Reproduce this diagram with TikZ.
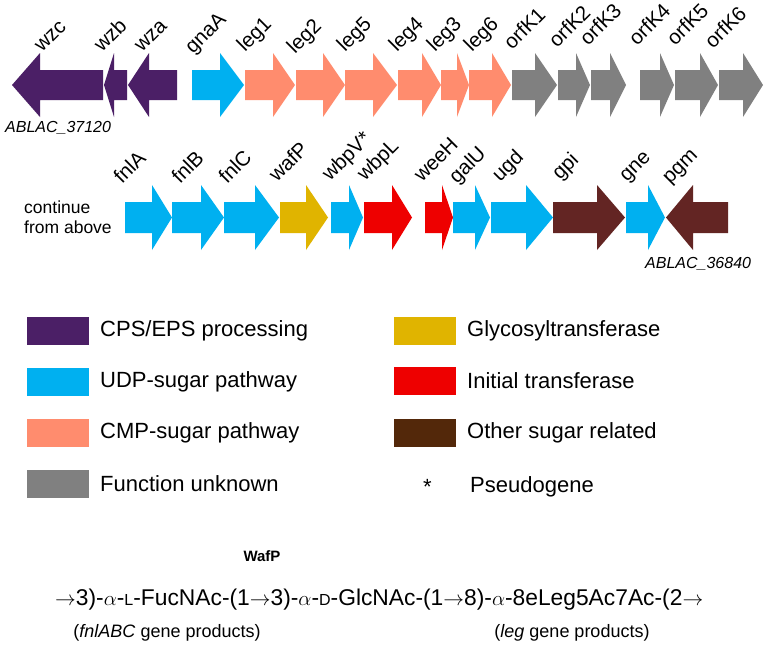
\documentclass[tikz,border=0pt]{standalone}
\usepackage{fontspec}
\setmainfont{Liberation Sans}
\definecolor{cps}{HTML}{4B1F66}
\definecolor{udp}{HTML}{00B0F0}
\definecolor{cmp}{HTML}{FF8C6E}
\definecolor{unk}{HTML}{808080}
\definecolor{gly}{HTML}{E0B400}
\definecolor{ini}{HTML}{EE0000}
\definecolor{oth}{HTML}{53280A}
\definecolor{othA}{HTML}{632523}
\newcommand{\genearrow}[4]{%
  \fill[#4] (#1,\cy-\bh) -- (#2,\cy-\bh) -- (#2,\cy-\hh) -- (#3,\cy) -- (#2,\cy+\hh) -- (#2,\cy+\bh) -- (#1,\cy+\bh) -- cycle;}
\newcommand{\smallcap}[1]{{\fontsize{16}{16}\selectfont #1}}
\tikzset{
  glab/.style={font=\fontsize{20.5}{20.5}\selectfont, inner sep=0pt, rotate=45, anchor=base west},
  legtext/.style={font=\fontsize{22}{22}\selectfont, inner sep=0pt, anchor=west},
  legbox/.style={minimum width=62pt, minimum height=28pt, inner sep=0pt, anchor=west},
  small/.style={font=\fontsize{17.5}{19.5}\selectfont, inner sep=0pt}
}
\begin{document}
\begin{tikzpicture}[x=1pt,y=-1pt]
\useasboundingbox (0,0) rectangle (768,645);
\fill[white] (0,0) rectangle (768,645);
% ---------- row 1 ----------
\def\cy{85}\def\bh{15}\def\hh{32}
\genearrow{103}{40}{12}{cps}
\genearrow{127}{114}{104}{cps}
\genearrow{177}{149}{128}{cps}
\genearrow{192}{220}{244}{udp}
\genearrow{245}{273}{295}{cmp}
\genearrow{296}{323}{345}{cmp}
\genearrow{345}{373}{397}{cmp}
\genearrow{398}{422}{441}{cmp}
\genearrow{441}{457}{469}{cmp}
\genearrow{469}{492}{511}{cmp}
\genearrow{512}{535}{557}{unk}
\genearrow{558}{576}{590}{unk}
\genearrow{591}{610}{626}{unk}
\genearrow{640}{660}{674}{unk}
\genearrow{675}{700}{718}{unk}
\genearrow{719}{743}{763}{unk}
\node[glab] (wzc) at (42,53) {wzc};
\node[glab] (wzb) at (102,53) {wzb};
\node[glab] (wza) at (142,53) {wza};
\node[glab] (gnaA) at (193,55) {gnaA};
\node[glab] (leg1) at (245,53) {leg1};
\node[glab] (leg2) at (295,55) {leg2};
\node[glab] (leg5) at (345,53) {leg5};
\node[glab] (leg4) at (397,53) {leg4};
\node[glab] (leg3) at (435,53) {leg3};
\node[glab] (leg6) at (472,53) {leg6};
\node[glab] (orfK1) at (512,51) {orfK1};
\node[glab] (orfK2) at (557,49) {orfK2};
\node[glab] (orfK3) at (588,47) {orfK3};
\node[glab] (orfK4) at (637,47) {orfK4};
\node[glab] (orfK5) at (675,47) {orfK5};
\node[glab] (orfK6) at (713,50) {orfK6};
\node[font=\fontsize{16}{16}\selectfont\itshape, inner sep=0pt, anchor=west] (abl1) at (5,128) {ABLAC\_37120};
% ---------- row 2 ----------
\def\cy{217.5}\def\bh{15.5}\def\hh{32.5}
\genearrow{125}{152}{172}{udp}
\genearrow{172}{201}{224}{udp}
\genearrow{224}{255}{279}{udp}
\genearrow{280}{306}{328}{gly}
\genearrow{331}{349}{363}{udp}
\genearrow{364}{392}{412}{ini}
\genearrow{425}{442}{453}{ini}
\genearrow{453}{475}{490}{udp}
\genearrow{491}{526}{553}{udp}
\genearrow{553}{597}{625}{othA}
\genearrow{626}{648}{665}{udp}
\genearrow{728}{693}{666}{othA}
\node[glab] (fnlA) at (122,185) {fnlA};
\node[glab] (fnlB) at (180,185) {fnlB};
\node[glab] (fnlC) at (227,185) {fnlC};
\node[glab] (wafP) at (277,183) {wafP};
\node[glab] (wbpV) at (330,182) {wbpV*};
\node[glab] (wbpL) at (365,182) {wbpL};
\node[glab] (weeH) at (422,183) {weeH};
\node[glab] (galU) at (457,185) {galU};
\node[glab] (ugd) at (500,183) {ugd};
\node[glab] (gpi) at (560,181) {gpi};
\node[glab] (gne) at (627,183) {gne};
\node[glab] (pgm) at (670,185) {pgm};
\node[small, align=left, anchor=north west] (cont) at (24,201) {continue\\from above};
\node[font=\fontsize{16}{16}\selectfont\itshape, inner sep=0pt, anchor=west] (abl2) at (645,264) {ABLAC\_36840};
% ---------- legend ----------
\node[legbox, fill=cps] (b1) at (27,331) {};
\node[legtext] (t1) at (100,331) {CPS/EPS processing};
\node[legbox, fill=udp] (b2) at (27,382) {};
\node[legtext] (t2) at (100,382) {UDP-sugar pathway};
\node[legbox, fill=cmp] (b3) at (27,433) {};
\node[legtext] (t3) at (100,433) {CMP-sugar pathway};
\node[legbox, fill=unk] (b4) at (27,484) {};
\node[legtext] (t4) at (100,484) {Function unknown};
\node[legbox, fill=gly] (b5) at (394,331) {};
\node[legtext] (t5) at (467,331) {Glycosyltransferase};
\node[legbox, fill=ini] (b6) at (394,381) {};
\node[legtext] (t6) at (467,381) {Initial transferase};
\node[legbox, fill=oth] (b7) at (394,433) {};
\node[legtext] (t7) at (467,433) {Other sugar related};
\node[legtext] (star) at (423,487) {*};
\node[legtext] (t8) at (470,487) {Pseudogene};
% ---------- formula ----------
\node[font=\fontsize{15}{15}\selectfont\bfseries, inner sep=0pt] (wafp) at (262,556) {WafP};
\node[font=\fontsize{22.8}{22.8}\selectfont, inner sep=0pt, anchor=base west] (formula) at (55,605)
  {$\rightarrow$3)-$\alpha$-\smallcap{L}-FucNAc-(1$\rightarrow$3)-$\alpha$-\smallcap{D}-GlcNAc-(1$\rightarrow$8)-$\alpha$-8eLeg5Ac7Ac-(2$\rightarrow$};
\node[font=\fontsize{18}{18}\selectfont, inner sep=0pt] (fnlp) at (167,633) {(\textit{fnlABC} gene products)};
\node[font=\fontsize{18}{18}\selectfont, inner sep=0pt] (legp) at (572,633) {(\textit{leg} gene products)};
\end{tikzpicture}
\end{document}
